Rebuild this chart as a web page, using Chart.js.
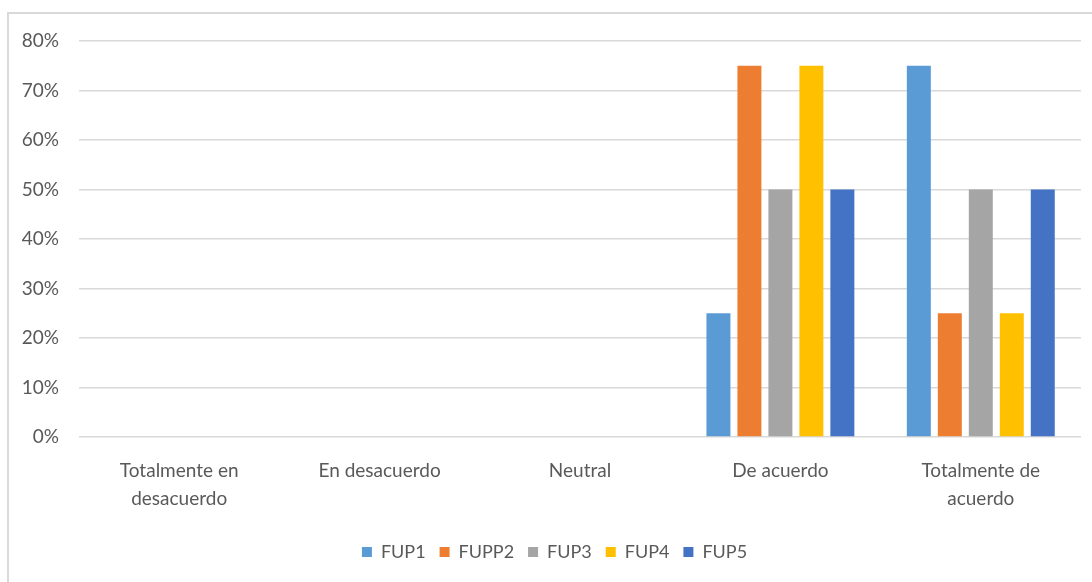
<!DOCTYPE html>
<html>
<head>
<meta charset="utf-8">
<script src="https://cdn.jsdelivr.net/npm/chart.js@4/dist/chart.umd.min.js"></script>
<style>
  html, body { margin: 0; padding: 0; background: #fff; overflow: hidden; width: 1092px; height: 582px; }
  #frame { position: absolute; left: 7px; top: 12px; width: 1200px; height: 700px; border: 2px solid #d9d9d9; box-sizing: border-box; }
  #wrap { position: absolute; left: 0; top: 0; width: 1092px; height: 582px; }
</style>
</head>
<body>
<div id="frame"></div>
<div id="wrap"><canvas id="c" width="1092" height="582"></canvas></div>
<script>
// Response categories (multi-line where the label wraps)
const categories = [["Totalmente en", "desacuerdo"], "En desacuerdo", "Neutral", "De acuerdo", ["Totalmente de", "acuerdo"]];

// Share of responses per item, in percent
const fup1  = [0, 0, 0, 25, 75];
const fupp2 = [0, 0, 0, 75, 25];
const fup3  = [0, 0, 0, 50, 50];
const fup4  = [0, 0, 0, 75, 25];
const fup5  = [0, 0, 0, 50, 50];

const seriesNames = ["FUP1", "FUPP2", "FUP3", "FUP4", "FUP5"];
const seriesColors = ["#5B9BD5", "#ED7D31", "#A5A5A5", "#FFC000", "#4472C4"];
const seriesData = [fup1, fupp2, fup3, fup4, fup5];

// Y axis ticks: 0% .. 80%
const yMax = 80;
const yStep = 10;

const textColor = "#595959";
const gridColor = "#d9d9d9";
const fontFamily = "Lato, 'Open Sans', sans-serif";

// Nudge the legend a little to the right of the canvas centre
const legendShift = {
  id: "legendShift",
  afterLayout(chart) {
    if (chart.legend) {
      chart.legend.left += 14;
      chart.legend.right += 14;
    }
  }
};

new Chart(document.getElementById("c"), {
  type: "bar",
  data: {
    labels: categories,
    datasets: seriesData.map((d, i) => ({
      label: seriesNames[i],
      data: d,
      backgroundColor: seriesColors[i],
      borderWidth: 0,
      categoryPercentage: 0.773,
      barPercentage: 0.774
    }))
  },
  plugins: [legendShift],
  options: {
    responsive: false,
    animation: false,
    devicePixelRatio: 1,
    layout: { padding: { left: 0, right: 11, top: 41, bottom: 11 } },
    plugins: {
      tooltip: { enabled: false },
      legend: {
        position: "bottom",
        labels: {
          color: textColor,
          font: { family: fontFamily, size: 18 },
          boxWidth: 10,
          boxHeight: 10,
          padding: 14
        }
      }
    },
    scales: {
      x: {
        grid: { display: false },
        border: { display: false },
        ticks: {
          color: textColor,
          font: { family: fontFamily, size: 19, lineHeight: 1.47 },
          padding: 12,
          maxRotation: 0,
          autoSkip: false
        },
        afterFit: (s) => { s.height = 92; }
      },
      y: {
        min: 0,
        max: yMax,
        border: { display: false },
        grid: { color: gridColor, lineWidth: 1.5, drawTicks: false },
        ticks: {
          stepSize: yStep,
          color: textColor,
          font: { family: fontFamily, size: 19 },
          padding: 20,
          callback: (v) => v + "%"
        },
        afterFit: (s) => { s.width = 79; }
      }
    }
  }
});
</script>
</body>
</html>
